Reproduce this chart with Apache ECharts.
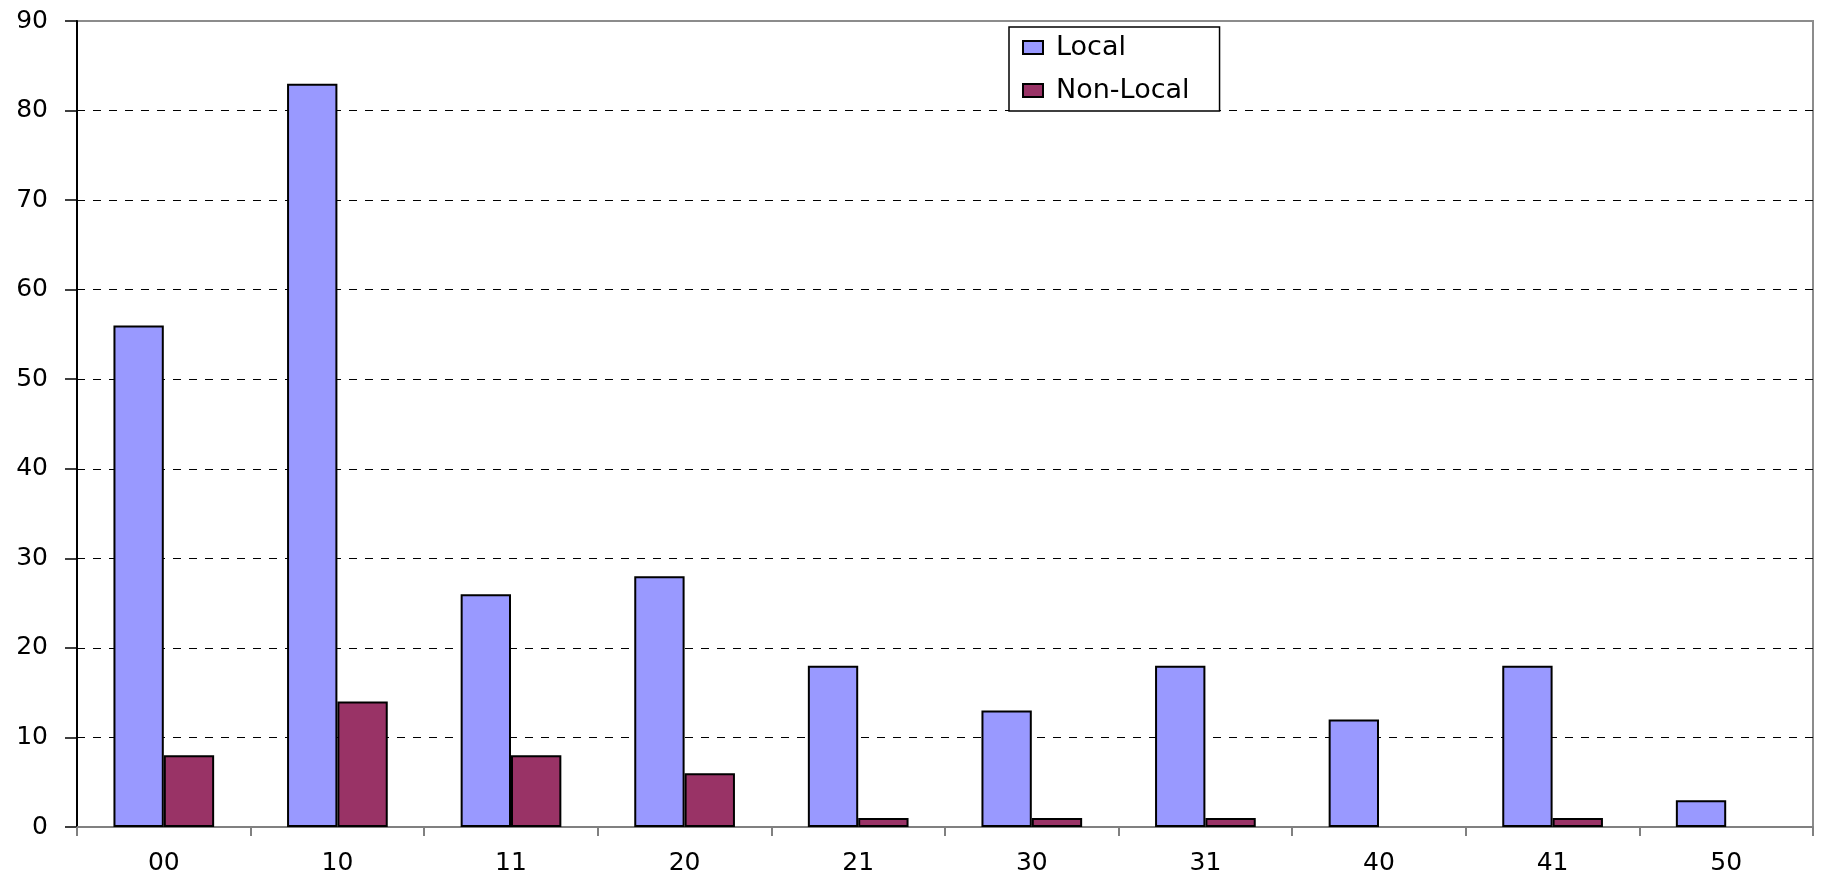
<!DOCTYPE html>
<html>
<head>
<meta charset="utf-8">
<script src="https://cdn.jsdelivr.net/npm/echarts@6/dist/echarts.min.js"></script>
<style>
html,body{margin:0;padding:0;background:#fff;}
#chart{width:1821px;height:880px;}
</style>
</head>
<body>
<div id="chart"></div>
<script>
const categories = ['00','10','11','20','21','30','31','40','41','50'];
const localValues = [56, 83, 26, 28, 18, 13, 18, 12, 18, 3];
const nonLocalValues = [8, 14, 8, 6, 1, 1, 1, 0, 1, 0];
const seriesNames = ['Local', 'Non-Local'];

// zero-height bars are not drawn in the reference
const asBars = arr => arr.map(v => (v === 0 ? null : v));

const chart = echarts.init(document.getElementById('chart'), null, {renderer: 'canvas'});
const fontFamily = '"DejaVu Sans", "Liberation Sans", Arial, sans-serif';
chart.setOption({
  animation: false,
  backgroundColor: '#ffffff',
  grid: {
    left: 77, right: 8, top: 21, bottom: 53,
    show: true, borderColor: '#8c8c8c', borderWidth: 2, backgroundColor: 'transparent'
  },
  legend: {
    orient: 'vertical',
    left: 1009, top: 27,
    padding: [7, 30, 7, 13],
    itemGap: 16,
    itemWidth: 20, itemHeight: 13,
    icon: 'rect',
    borderColor: '#000', borderWidth: 1.5,
    backgroundColor: '#fff',
    textStyle: {fontFamily: fontFamily, fontSize: 27, color: '#000', padding: [0, 0, 0, 8]},
    data: seriesNames
  },
  xAxis: {
    type: 'category',
    data: categories,
    axisLine: {show: true, lineStyle: {color: '#808080', width: 2}},
    axisTick: {show: true, length: 9, lineStyle: {color: '#808080', width: 2}},
    axisLabel: {fontFamily: fontFamily, fontSize: 25, color: '#000', margin: 24},
    splitLine: {show: false}
  },
  yAxis: {
    type: 'value',
    min: 0, max: 90, interval: 10,
    axisLine: {show: true, lineStyle: {color: '#000', width: 2}},
    axisTick: {show: true, length: 12, lineStyle: {color: '#000', width: 1.5}},
    axisLabel: {fontFamily: fontFamily, fontSize: 25, color: '#000', margin: 29},
    splitLine: {show: true, showMinLine: false, showMaxLine: false,
      lineStyle: {color: '#000', width: 1, type: [8, 8]}}
  },
  series: [
    {
      name: seriesNames[0], type: 'bar', data: asBars(localValues),
      barGap: '0%', barCategoryGap: '42%',
      itemStyle: {color: '#9999FF', borderColor: '#000', borderWidth: 2}
    },
    {
      name: seriesNames[1], type: 'bar', data: asBars(nonLocalValues),
      barGap: '0%', barCategoryGap: '42%',
      itemStyle: {color: '#993366', borderColor: '#000', borderWidth: 2}
    }
  ]
});
</script>
</body>
</html>
